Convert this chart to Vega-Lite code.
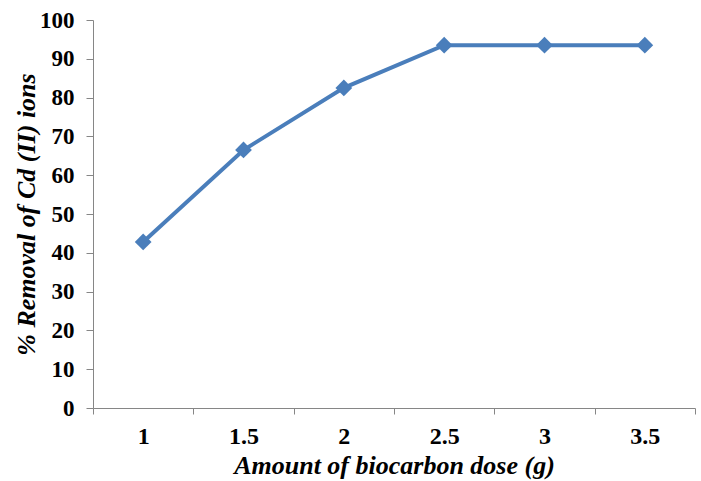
{
  "$schema": "https://vega.github.io/schema/vega-lite/v6.json",
  "autosize": "none",
  "width": 602,
  "height": 388,
  "padding": {"left": 93, "top": 20, "right": 6, "bottom": 73},
  "background": "white",
  "config": {"view": {"stroke": null}},
  "data": {"values": [
    {"dose": "1", "removal": 42.8},
    {"dose": "1.5", "removal": 66.5},
    {"dose": "2", "removal": 82.5},
    {"dose": "2.5", "removal": 93.5},
    {"dose": "3", "removal": 93.5},
    {"dose": "3.5", "removal": 93.5}
  ]},
  "mark": {"type": "line", "color": "#4A7EBB", "strokeWidth": 4, "point": {"shape": "diamond", "size": 280, "filled": true, "color": "#4A7EBB", "opacity": 1}},
  "encoding": {
    "x": {
      "field": "dose", "type": "ordinal", "sort": null, "bandPosition": 0.5,
      "scale": {"type": "band", "paddingInner": 0, "paddingOuter": 0},
      "axis": {
        "title": "Amount of biocarbon dose (g)",
        "titleFont": "Liberation Serif", "titleFontSize": 26, "titleFontWeight": "bold", "titleFontStyle": "italic", "titleColor": "black", "titlePadding": 4,
        "labelFont": "Liberation Serif", "labelFontSize": 24, "labelFontWeight": "bold", "labelColor": "black", "labelAngle": 0, "labelPadding": 10,
        "tickBand": "extent", "tickColor": "#868686", "tickSize": 6, "domainColor": "#868686", "domainWidth": 1, "grid": false
      }
    },
    "y": {
      "field": "removal", "type": "quantitative",
      "scale": {"domain": [0, 100], "nice": false},
      "axis": {
        "title": "% Removal of Cd (II) ions",
        "values": [0, 10, 20, 30, 40, 50, 60, 70, 80, 90, 100],
        "titleFont": "Liberation Serif", "titleFontSize": 26, "titleFontWeight": "bold", "titleFontStyle": "italic", "titleColor": "black", "titlePadding": 0,
        "labelFont": "Liberation Serif", "labelFontSize": 23, "labelFontWeight": "bold", "labelColor": "black", "labelPadding": 12,
        "tickColor": "#868686", "tickSize": 7, "domainColor": "#868686", "domainWidth": 1, "grid": false
      }
    }
  }
}
